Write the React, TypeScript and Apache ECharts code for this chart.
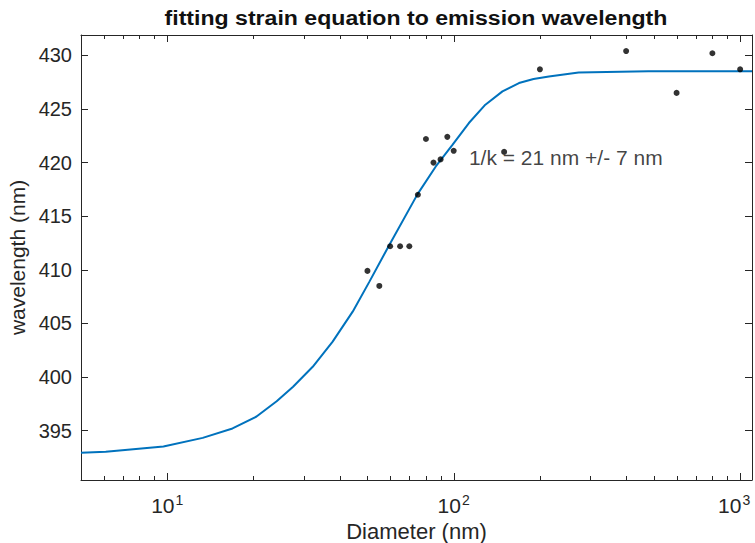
import React, { useEffect, useRef } from 'react';
import * as echarts from 'echarts';

// measured data points: diameter (nm) vs emission wavelength (nm)
const diameters = [50, 55, 60, 65, 70, 75, 80, 85, 90, 95, 100, 150, 200, 400, 600, 800, 1000];
const wavelengths = [409.9, 408.5, 412.2, 412.2, 412.2, 417.0, 422.2, 420.0, 420.3, 422.4, 421.1, 421.0, 428.7, 430.4, 426.5, 430.2, 428.7];

// fitted strain-equation curve
const fitX = [5, 6.1, 9.7, 13.3, 16.9, 20.5, 24.1, 27.5, 32.2, 37.8, 44.4, 50.8, 59.6, 74.8, 86.6, 99, 113, 129, 148, 169, 190, 215, 273, 478, 1100];
const fitY = [392.93, 393.03, 393.53, 394.33, 395.21, 396.32, 397.75, 399.1, 400.96, 403.3, 406.1, 408.9, 412.32, 417.06, 419.64, 421.66, 423.69, 425.4, 426.64, 427.42, 427.8, 428.04, 428.41, 428.51, 428.51];

// axis settings
const X_MIN = 5;
const X_MAX = 1100;
const Y_MIN = 390.4;
const Y_MAX = 431.9;
const majorXTicks = [10, 100, 1000];
const minorXTicks = [6, 7, 8, 9, 20, 30, 40, 50, 60, 70, 80, 90, 200, 300, 400, 500, 600, 700, 800, 900];

const titleText = 'fitting strain equation to emission wavelength';
const xName = 'Diameter (nm)';
const yName = 'wavelength (nm)';
const annotX = 113;
const annotY = 420.5;
const annotText = '1/k = 21 nm +/- 7 nm';

const FONT = '"Liberation Sans", Arial, Helvetica, sans-serif';
const AX = '#262626';

export default function App() {
  const ref = useRef<HTMLDivElement>(null);
  useEffect(() => {
    if (!ref.current) return;
    const chart = echarts.init(ref.current, null, { renderer: 'svg' });
    const tickData = [
      ...majorXTicks.map((v) => [v, Y_MIN, 7]),
      ...minorXTicks.map((v) => [v, Y_MIN, 4]),
    ];
    const labelFmt = (v: number) => {
      const e = Math.log10(v);
      if (Math.abs(e - Math.round(e)) > 1e-6) return '';
      const n = Math.round(e);
      return n >= 3 ? `{b|10}{se|${n}}` : `{b|10}{s|${n}}`;
    };
    const yAxisBase = {
      type: 'value',
      min: Y_MIN,
      max: Y_MAX,
      splitNumber: 8,
      splitLine: { show: false },
      axisLine: { show: true, onZero: false, lineStyle: { color: AX, width: 1 } },
      axisTick: { show: true, inside: true, length: 7, lineStyle: { color: AX, width: 1 } },
    };
    chart.setOption({
      animation: false,
      backgroundColor: '#fff',
      grid: { left: 81, top: 35, width: 671, height: 445, containLabel: false, outerBoundsMode: 'none' },
      graphic: [
        {
          type: 'text',
          x: 416,
          y: 18,
          scaleX: 1.1,
          style: {
            text: titleText,
            font: `bold 21px ${FONT}`,
            fill: '#111',
            textAlign: 'center',
            textVerticalAlign: 'middle',
          },
        },
      ],
      xAxis: [
        {
          type: 'log',
          logBase: 10,
          min: X_MIN,
          max: X_MAX,
          position: 'bottom',
          name: xName,
          nameLocation: 'middle',
          nameGap: 37,
          nameTextStyle: { fontFamily: FONT, fontSize: 22, color: AX },
          axisLine: { show: true, onZero: false, lineStyle: { color: AX, width: 1 } },
          axisTick: { show: false },
          splitLine: { show: false },
          minorTick: { show: false },
          axisLabel: {
            show: true,
            margin: 12,
            showMinLabel: false,
            showMaxLabel: false,
            formatter: labelFmt,
            rich: {
              b: { fontFamily: FONT, fontSize: 21, color: AX, lineHeight: 26, verticalAlign: 'middle' },
              s: { fontFamily: FONT, fontSize: 14, color: AX, verticalAlign: 'top', padding: [1, 0, 0, 1] },
              se: { fontFamily: FONT, fontSize: 14, color: AX, verticalAlign: 'top', padding: [1, 12, 0, 1] },
            },
          },
        },
        {
          type: 'log',
          logBase: 10,
          min: X_MIN,
          max: X_MAX,
          position: 'top',
          axisLine: { show: true, onZero: false, lineStyle: { color: AX, width: 1 } },
          axisTick: { show: false },
          axisLabel: { show: false },
          splitLine: { show: false },
        },
      ],
      yAxis: [
        {
          ...yAxisBase,
          position: 'left',
          name: yName,
          nameLocation: 'middle',
          nameGap: 49,
          nameTextStyle: { fontFamily: FONT, fontSize: 21, color: AX },
          axisLabel: {
            show: true,
            margin: 9,
            showMinLabel: false,
            showMaxLabel: false,
            fontFamily: FONT,
            fontSize: 20,
            color: AX,
          },
        },
        {
          ...yAxisBase,
          position: 'right',
          offset: 0,
          axisLabel: { show: false },
        },
      ],
      series: [
        {
          type: 'custom',
          xAxisIndex: 0,
          yAxisIndex: 0,
          clip: false,
          silent: true,
          z: 5,
          data: tickData,
          renderItem: (params: any, api: any) => {
            const v = api.value(0);
            const len = api.value(2);
            const b = api.coord([v, Y_MIN]);
            const t = api.coord([v, Y_MAX]);
            const x = Math.round(b[0]) + 0.5;
            return {
              type: 'group',
              children: [
                { type: 'line', shape: { x1: x, y1: b[1], x2: x, y2: b[1] - len }, style: { stroke: AX, lineWidth: 1 } },
                { type: 'line', shape: { x1: x, y1: t[1], x2: x, y2: t[1] + len }, style: { stroke: AX, lineWidth: 1 } },
              ],
            };
          },
        },
        {
          type: 'line',
          xAxisIndex: 0,
          yAxisIndex: 1,
          data: fitX.map((x, i) => [x, fitY[i]]),
          showSymbol: false,
          smooth: false,
          lineStyle: { color: '#0072BD', width: 2 },
          z: 3,
        },
        {
          type: 'scatter',
          data: [[annotX, annotY]],
          symbolSize: 0,
          silent: true,
          z: 2,
          label: {
            show: true,
            position: 'right',
            distance: 0,
            formatter: annotText,
            fontFamily: FONT,
            fontSize: 21,
            color: '#111',
          },
        },
        {
          type: 'scatter',
          data: diameters.map((d, i) => [d, wavelengths[i]]),
          symbol: 'circle',
          symbolSize: 6,
          itemStyle: { color: '#000' },
          z: 4,
        },
      ],
    });
    return () => chart.dispose();
  }, []);
  return <div ref={ref} style={{ position: 'fixed', left: 0, top: 0, width: 755, height: 543 }} />;
}
